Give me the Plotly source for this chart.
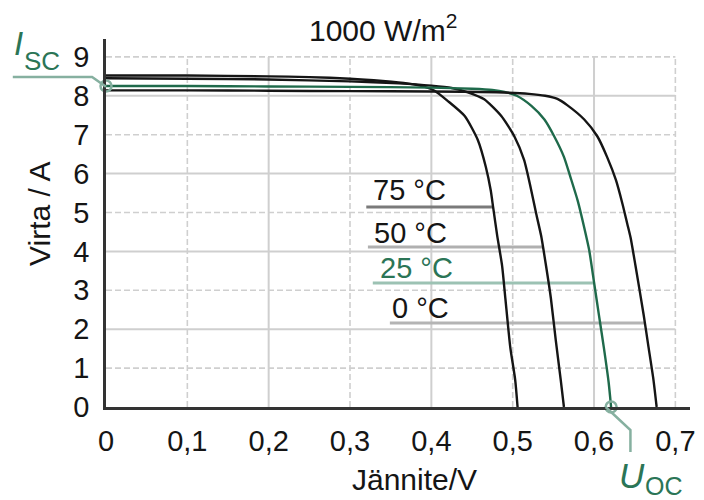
import numpy as np
import plotly.graph_objects as go

# ---- data ----
temps = ["75 °C", "50 °C", "25 °C", "0 °C"]
v_75 = [0, 0.1, 0.2, 0.25, 0.3, 0.34, 0.37, 0.39, 0.404, 0.420, 0.441, 0.457, 0.467, 0.473, 0.476, 0.481,
        0.487, 0.491, 0.497, 0.503, 0.506]
i_75 = [8.52, 8.52, 8.50, 8.48, 8.44, 8.38, 8.32, 8.24, 8.13, 7.87, 7.48, 6.87, 6.17, 5.57, 5.13, 4.40,
        3.63, 2.79, 1.54, 0.71, 0]
v_50 = [0, 0.1, 0.2, 0.3, 0.36, 0.40, 0.425, 0.445, 0.465, 0.486, 0.502, 0.514, 0.522, 0.529, 0.535, 0.541,
        0.547, 0.553, 0.559, 0.563]
i_50 = [8.45, 8.44, 8.42, 8.37, 8.32, 8.26, 8.20, 8.09, 7.91, 7.48, 6.96, 6.35, 5.65, 4.96, 4.40, 3.63,
        2.79, 1.71, 0.71, 0]
v_25 = [0, 0.1, 0.2, 0.3, 0.4, 0.45, 0.475, 0.49, 0.505, 0.523, 0.539, 0.551, 0.563, 0.571, 0.580, 0.588, 0.594,
        0.600, 0.606, 0.612, 0.618, 0.621]
i_25 = [8.25, 8.25, 8.24, 8.23, 8.21, 8.18, 8.15, 8.10, 8.00, 7.74, 7.39, 6.96, 6.43, 5.91, 5.30, 4.61, 4.04,
        3.21, 2.37, 1.54, 0.63, 0]
v_0 = [0, 0.1, 0.2, 0.3, 0.4, 0.48, 0.52, 0.54, 0.555, 0.567, 0.588, 0.604, 0.616, 0.627, 0.635, 0.641, 0.645,
       0.651, 0.661, 0.667, 0.673, 0.677]
i_0 = [8.14, 8.14, 8.13, 8.12, 8.11, 8.09, 8.05, 8.00, 7.92, 7.76, 7.39, 6.96, 6.43, 5.83, 5.22, 4.70, 4.35,
       3.63, 2.37, 1.54, 0.71, 0]

x_ticks = [0, 0.1, 0.2, 0.3, 0.4, 0.5, 0.6, 0.7]
x_ticktext = ["0", "0,1", "0,2", "0,3", "0,4", "0,5", "0,6", "0,7"]
y_ticks = [0, 1, 2, 3, 4, 5, 6, 7, 8, 9]

label_current = [5.14, 4.11, 3.19, 2.16]      # leader line heights
label_start_v = [0.320, 0.322, 0.328, 0.349]   # leader line starts
label_pos_v = [0.373, 0.374, 0.382, 0.387]
label_pos_i = [5.58, 4.47, 3.57, 2.55]

title_text = "1000 W/m<sup>2</sup>"
x_title = "Jännite/V"
y_title = "Virta / A"

# ---- styles ----
BLACK = "#151515"
GREEN = "#1f6a4b"
GREEN_TXT = "#2b7556"
GREEN_LIGHT = "#86b0a0"
GRID = "#cfcfcf"
FONT = "Liberation Sans"

series_v = [v_75, v_50, v_25, v_0]
series_i = [i_75, i_50, i_25, i_0]
series_col = [BLACK, BLACK, GREEN, BLACK]
leader_col = ["#7a7a7a", "#b0b0b0", "#9cc2b3", "#b4b4b4"]
label_col = [BLACK, BLACK, GREEN_TXT, BLACK]

fig = go.Figure()

XMAX, YMAX = 0.718, 9.46
GX, GY = 0.7, 9

shapes = []
# grid lines
for k, xv in enumerate(x_ticks[1:], start=1):
    solid = (k % 2 == 0)
    shapes.append(dict(type="line", xref="x", yref="y", x0=xv, x1=xv, y0=0, y1=GY,
                       line=dict(color=GRID, width=2 if solid else 1.6, dash="solid" if solid else "6px,3px"),
                       layer="below"))
for yv in y_ticks[1:]:
    solid = (yv % 2 == 0)
    shapes.append(dict(type="line", xref="x", yref="y", x0=0, x1=GX, y0=yv, y1=yv,
                       line=dict(color=GRID, width=2 if solid else 1.6, dash="solid" if solid else "6px,3px"),
                       layer="below"))

# temperature leader lines
for k in range(4):
    vv = np.array(series_v[k])[::-1]
    ii = np.array(series_i[k])[::-1]
    v_end = float(np.interp(label_current[k], ii, vv))
    shapes.append(dict(type="line", xref="x", yref="y", x0=label_start_v[k], x1=v_end,
                       y0=label_current[k], y1=label_current[k],
                       line=dict(color=leader_col[k], width=3), layer="below"))

# Isc leader
shapes.append(dict(type="path", xref="paper", yref="paper",
                   path="M -0.1596 0.897 L -0.0238 0.897 L 0 0.870",
                   line=dict(color=GREEN_LIGHT, width=2.5)))
# Uoc leader
shapes.append(dict(type="path", xref="paper", yref="paper",
                   path="M 0.8556 0.0 L 0.898 -0.0625 L 0.898 -0.122",
                   line=dict(color=GREEN_LIGHT, width=2.5)))

for k in range(4):
    fig.add_trace(go.Scatter(x=series_v[k], y=series_i[k], mode="lines",
                             line=dict(color=series_col[k], width=2.4, shape="spline", smoothing=0.6),
                             hoverinfo="skip", showlegend=False))

# circles at Isc and Uoc
fig.add_trace(go.Scatter(x=[0, v_25[-1]], y=[i_25[0], 0], mode="markers",
                         marker=dict(symbol="circle-open", size=11, color=GREEN_LIGHT, line=dict(width=2.5)),
                         cliponaxis=False, showlegend=False, hoverinfo="skip"))


def ann(x, y, text, size, color, ref="paper", **kw):
    d = dict(x=x, y=y, xref=ref, yref=ref, text=text, showarrow=False,
             xanchor="center", yanchor="middle",
             font=dict(family=FONT, size=size, color=color))
    d.update(kw)
    return d


annotations = []
for k in range(4):
    a = ann(label_pos_v[k], label_pos_i[k], temps[k], 29, label_col[k], ref="x")
    a["yref"] = "y"
    annotations.append(a)
annotations += [
    ann(0.475, 1.030, title_text, 30, BLACK),
    ann(0.528, -0.196, x_title, 30, BLACK),
    ann(-0.115, 0.527, y_title, 30, BLACK, textangle=-90),
    ann(-0.149, 0.989, "<i>I</i>", 33, GREEN_TXT),
    ann(-0.110, 0.940, "SC", 26, GREEN_TXT),
    ann(0.900, -0.186, "<i>U</i>", 35, GREEN_TXT),
    ann(0.956, -0.216, "OC", 25, GREEN_TXT),
]

fig.update_layout(
    width=704, height=500, autosize=False,
    margin=dict(l=106, r=9, t=39, b=93),
    paper_bgcolor="white", plot_bgcolor="white",
    shapes=shapes, annotations=annotations,
    showlegend=False,
    xaxis=dict(range=[0, XMAX], showgrid=False, zeroline=False, tickvals=x_ticks, ticktext=x_ticktext,
               showline=True, linecolor="#333333", linewidth=2.5, ticks="", ticklabelstandoff=6,
               tickfont=dict(family=FONT, size=29, color=BLACK), fixedrange=True),
    yaxis=dict(range=[0, YMAX], showgrid=False, zeroline=False, tickvals=y_ticks,
               showline=True, linecolor="#333333", linewidth=2.5, ticks="", ticklabelstandoff=8,
               tickfont=dict(family=FONT, size=29, color=BLACK), fixedrange=True),
)

fig.write_html("out.html")
